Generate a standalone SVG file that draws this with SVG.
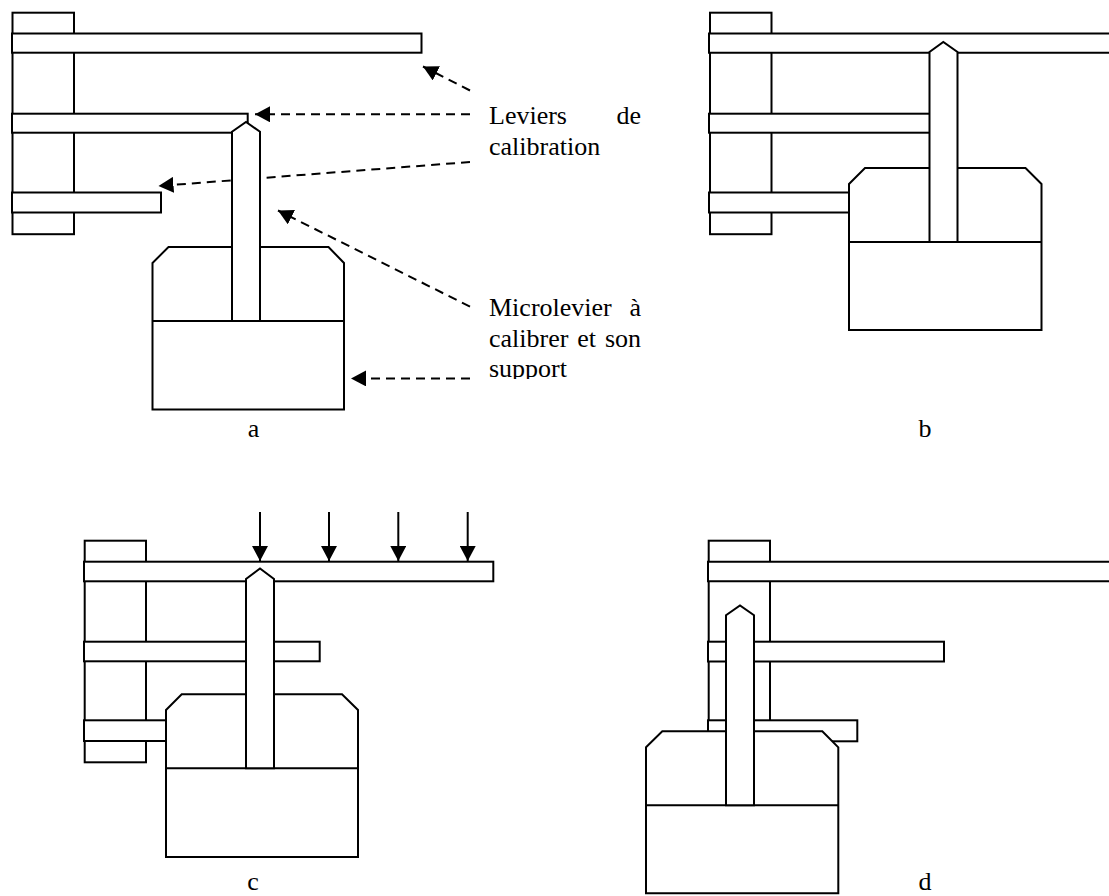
<svg xmlns="http://www.w3.org/2000/svg" width="1109" height="896" viewBox="0 0 1109 896">
<style>
.s{fill:#fff;stroke:#000;stroke-width:2;stroke-linejoin:miter}
.d{fill:none;stroke:#000;stroke-width:2;stroke-dasharray:9 6}
.f{fill:none;stroke:#000;stroke-width:2}
text{font-family:"Liberation Serif","Times New Roman",serif;font-size:26px;fill:#000}
</style>
<defs>
<marker id="h" markerUnits="userSpaceOnUse" markerWidth="16" markerHeight="16" refX="15" refY="8" orient="auto"><path d="M0,0L15,8L0,16Z" fill="#000"/></marker>
<clipPath id="cut" clipPathUnits="userSpaceOnUse"><rect x="480" y="350" width="170" height="29"/></clipPath>
</defs>
<rect width="1109" height="896" fill="#fff"/>
<g id="panel-a">
<rect id="a-post" class="s" x="12.5" y="12.7" width="61.5" height="221.5"/>
<rect id="a-bar1" class="s" x="12" y="33.5" width="409.5" height="19.2"/>
<rect id="a-bar2" class="s" x="12" y="113.7" width="235.7" height="19"/>
<rect id="a-bar3" class="s" x="12" y="192.5" width="149" height="20"/>
<g id="connectors">
<line class="d" x1="470" y1="90.5" x2="423" y2="66.5" marker-end="url(#h)"/>
<line class="d" x1="470" y1="114.3" x2="255" y2="114.3" marker-end="url(#h)"/>
<line class="d" x1="470" y1="162" x2="158.5" y2="186" marker-end="url(#h)"/>
<line class="d" x1="470" y1="306.7" x2="278" y2="210.5" marker-end="url(#h)"/>
<line class="d" x1="470" y1="378.4" x2="351" y2="378.4" marker-end="url(#h)"/>
</g>
<path id="a-support" class="s" d="M152.5,263L168.5,247H328.5L344,263V409.5H152.5ZM152.5,321H344"/>
<path id="a-lever" class="s" d="M232,321V131.7L246,122L260,131.7V321Z"/>
</g>
<g id="panel-b">
<rect id="b-post" class="s" x="710" y="12.7" width="61.5" height="221.5"/>
<path id="b-bar1" class="s" d="M1110,33.5H709V52.7H1110"/>
<rect id="b-bar2" class="s" x="709" y="113.7" width="221" height="19"/>
<rect id="b-bar3" class="s" x="709" y="192.5" width="141" height="20"/>
<path id="b-support" class="s" d="M849,184L865,168H1025.5L1041.5,184V330H849ZM849,242H1041.5"/>
<path id="b-lever" class="s" d="M929.5,242V52L943.3,42L957.5,52V242Z"/>
</g>
<g id="panel-c">
<rect id="c-post" class="s" x="84.7" y="540.7" width="61.3" height="221.6"/>
<rect id="c-bar1" class="s" x="84" y="561.7" width="409.3" height="19.6"/>
<rect id="c-bar2" class="s" x="84" y="641.7" width="235.7" height="19.6"/>
<rect id="c-bar3" class="s" x="84" y="720.3" width="83" height="20.7"/>
<path id="c-support" class="s" d="M166,710L181.7,694.3H342L358,710V857H166ZM166,768.3H358"/>
<path id="c-lever" class="s" d="M246,768.3V579L260,568.5L274,579V768.3Z"/>
<g id="c-forces">
<line class="f" x1="260" y1="512" x2="260" y2="561" marker-end="url(#h)"/>
<line class="f" x1="329" y1="512" x2="329" y2="561" marker-end="url(#h)"/>
<line class="f" x1="398.3" y1="512" x2="398.3" y2="561" marker-end="url(#h)"/>
<line class="f" x1="467.7" y1="512" x2="467.7" y2="561" marker-end="url(#h)"/>
</g>
</g>
<g id="panel-d">
<rect id="d-post" class="s" x="708.7" y="540.7" width="61.3" height="221.6"/>
<path id="d-bar1" class="s" d="M1110,561.7H708V581.3H1110"/>
<rect id="d-bar2" class="s" x="708" y="641.7" width="236" height="19.8"/>
<rect id="d-bar3" class="s" x="708" y="720.3" width="149.3" height="21"/>
<path id="d-support" class="s" d="M646,747.3L662.3,731.3H822.3L838.3,747.3V893.3H646ZM646,805.3H838.3"/>
<path id="d-lever" class="s" d="M726,805.3V615.3L740,605.5L754,615.3V805.3Z"/>
</g>
<g id="labels">
<text x="489" y="124.3">Leviers</text>
<text x="641" y="124.3" text-anchor="end">de</text>
<text x="489" y="155">calibration</text>
<text x="489" y="315.5">Microlevier</text>
<text x="641" y="315.5" text-anchor="end">à</text>
<text x="489" y="346.7" word-spacing="2.4">calibrer et son</text>
<g clip-path="url(#cut)"><text x="489" y="377.3">support</text></g>
<text x="253.5" y="436.7" text-anchor="middle">a</text>
<text x="925" y="436.7" text-anchor="middle">b</text>
<text x="253" y="890" text-anchor="middle">c</text>
<text x="925" y="890" text-anchor="middle">d</text>
</g>
</svg>
